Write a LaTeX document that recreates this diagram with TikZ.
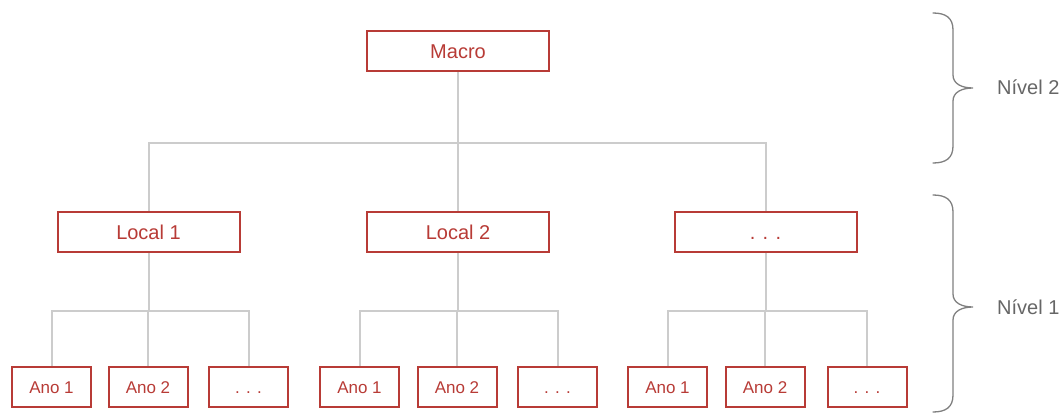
\documentclass[tikz,border=0pt]{standalone}
\usepackage{fontspec}
\setmainfont{Liberation Sans}
\usetikzlibrary{backgrounds}
\definecolor{boxred}{HTML}{B83B36}
\definecolor{conngray}{HTML}{CCCCCC}
\definecolor{bracegray}{HTML}{808080}
\definecolor{labelgray}{HTML}{666666}
\tikzset{
  bigbox/.style={draw=boxred, line width=2pt, fill=white, minimum width=182pt, minimum height=40pt, inner sep=0pt, text=boxred, font=\fontsize{20}{24}\selectfont, text height=18.3pt, text depth=4pt},
  smallbox/.style={bigbox, minimum width=79pt, font=\fontsize{17}{20}\selectfont, text height=15.7pt, text depth=3.5pt},
  conn/.style={draw=conngray, line width=2pt},
  bracepath/.style={draw=bracegray, line width=1.3pt, line cap=round},
  levellabel/.style={text=labelgray, font=\fontsize{20}{24}\selectfont, anchor=base west, inner sep=0pt}
}
\begin{document}
\begin{tikzpicture}[x=1pt, y=-1pt]
\useasboundingbox (0,0) rectangle (1062,414);
% level 2 and level 1 boxes
\node[bigbox] (macro) at (458,51) {Macro};
\node[bigbox] (l1) at (148.5,232) {Local 1};
\node[bigbox] (l2) at (458,232) {Local 2};
\node[bigbox] (l3) at (765.5,232) {. . .};
% year boxes
\node[smallbox] (a11) at (51.5,387) {Ano 1};
\node[smallbox] (a12) at (148,387) {Ano 2};
\node[smallbox] (a13) at (248.5,387) {. . .};
\node[smallbox] (a21) at (359.5,387) {Ano 1};
\node[smallbox] (a22) at (457,387) {Ano 2};
\node[smallbox] (a23) at (557.5,387) {. . .};
\node[smallbox] (a31) at (667.5,387) {Ano 1};
\node[smallbox] (a32) at (765,387) {Ano 2};
\node[smallbox] (a33) at (867,387) {. . .};
% connectors
\begin{scope}[on background layer]
  \foreach \c in {l1,l2,l3}{
    \draw[conn] (macro.south) -- ++(0,71) -| (\c.north);
  }
  \foreach \c in {a11,a12,a13}{
    \draw[conn] (l1.south) -- ++(0,58) -| (\c.north);
  }
  \foreach \c in {a21,a22,a23}{
    \draw[conn] (l2.south) -- ++(0,58) -| (\c.north);
  }
  \foreach \c in {a31,a32,a33}{
    \draw[conn] (l3.south) -- ++(0,58) -| (\c.north);
  }
\end{scope}
% braces
\draw[bracepath] (933,13) .. controls (946,13) and (953,18) .. (953,30) -- (953,75)
  .. controls (953,84) and (962,88) .. (973,88)
  .. controls (962,88) and (953,92) .. (953,101) -- (953,146)
  .. controls (953,158) and (946,163) .. (933,163);
\draw[bracepath] (933,195) .. controls (946,195) and (953,200) .. (953,212) -- (953,294)
  .. controls (953,303) and (962,307) .. (973,307)
  .. controls (962,307) and (953,311) .. (953,320) -- (953,395)
  .. controls (953,407) and (946,412) .. (933,412);
\node[levellabel] (n2) at (997,95) {Nível 2};
\node[levellabel] (n1) at (997,314) {Nível 1};
\end{tikzpicture}
\end{document}
